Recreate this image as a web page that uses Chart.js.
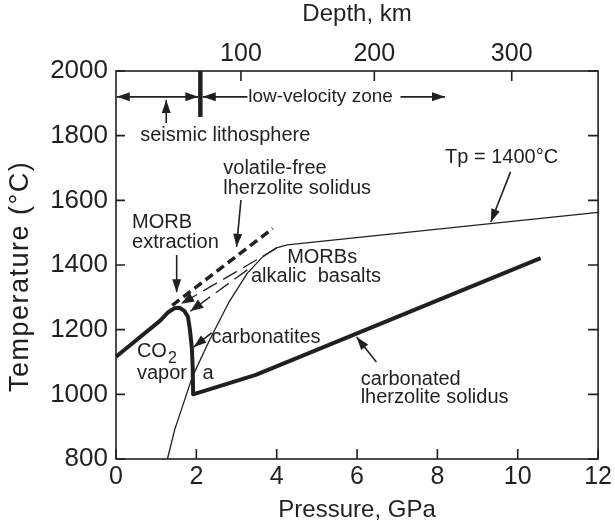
<!DOCTYPE html>
<html>
<head>
<meta charset="utf-8">
<script src="https://cdn.jsdelivr.net/npm/chart.js@4.4.1/dist/chart.umd.min.js"></script>
<style>
  html, body { margin: 0; padding: 0; background: #fff; }
</style>
</head>
<body>
<canvas id="chart" width="615" height="520"></canvas>
<script>
// AXES
const pressureTicks = [0, 2, 4, 6, 8, 10, 12];
const tempTicks = [800, 1000, 1200, 1400, 1600, 1800, 2000];
const depthLabels = [100, 200, 300];
const depthAtGPa = [3.11, 6.43, 9.85];

// CURVES (pressure in GPa, temperature in C)
const carbSolidusP = [0, 1.1, 1.3, 1.45, 1.58, 1.70, 1.79, 1.84, 1.89, 1.91, 1.92, 3.48, 10.57];
const carbSolidusT = [1116, 1228, 1254, 1266, 1268, 1258, 1240, 1200, 1140, 1080, 1000, 1060, 1421];

const drySolidusP = [1.4, 3.9];
const drySolidusT = [1275, 1513];

const adiabatP = [1.28, 1.46, 1.90, 2.33, 2.82, 3.27, 3.65, 3.97, 4.26, 12];
const adiabatT = [800, 890, 1054, 1168, 1287, 1375, 1425, 1452, 1462, 1563];

const meltPathAP = [4.0, 1.62];
const meltPathAT = [1452, 1280];
const meltPathBP = [3.27, 1.85];
const meltPathBT = [1385, 1257];

const ink = '#231f20';
const FONT = '"Liberation Sans", Arial, Helvetica, sans-serif';
Chart.defaults.font.family = FONT;
Chart.defaults.color = ink;

const pts = (P, T) => P.map((p, i) => ({ x: p, y: T[i] }));

// LABELS (data coords)
const labels = [
  { t: 'seismic lithosphere', p: 2.72, T: 1802, align: 'center' },
  { t: 'low-velocity zone', p: 3.29, T: 1920, size: 19 },
  { t: 'volatile-free', p: 2.67, T: 1700 },
  { t: 'lherzolite solidus', p: 2.67, T: 1638 },
  { t: 'MORB', p: 0.40, T: 1530 },
  { t: 'extraction', p: 0.40, T: 1471 },
  { t: 'MORBs', p: 4.26, T: 1422 },
  { t: 'alkalic  basalts', p: 3.36, T: 1363 },
  { t: 'carbonatites', p: 2.38, T: 1177 },
  { t: 'vapor', p: 0.52, T: 1066 },
  { t: 'a', p: 2.15, T: 1066 },
  { t: 'Tp = 1400°C', p: 8.19, T: 1734 },
  { t: 'carbonated', p: 6.09, T: 1047 },
  { t: 'lherzolite solidus', p: 6.09, T: 989 }
];

// ARROWS [p0, T0, p1, T1, both ends]
const arrows = [
  [9.82, 1688, 9.33, 1533],
  [6.48, 1100, 5.99, 1177],
  [1.51, 1431, 1.51, 1316],
  [3.11, 1601, 3.00, 1456],
  [2.38, 1190, 1.93, 1146],
  [1.25, 1839, 1.25, 1910],
  [0.02, 1920, 2.05, 1920, true],
  [3.27, 1920, 2.16, 1920],
  [7.08, 1920, 8.19, 1920]
];

function head(ctx, x0, y0, x1, y1, len, w) {
  const a = Math.atan2(y1 - y0, x1 - x0);
  ctx.beginPath();
  ctx.moveTo(x1, y1);
  ctx.lineTo(x1 - len * Math.cos(a) + w * Math.sin(a), y1 - len * Math.sin(a) - w * Math.cos(a));
  ctx.lineTo(x1 - len * Math.cos(a) - w * Math.sin(a), y1 - len * Math.sin(a) + w * Math.cos(a));
  ctx.closePath();
  ctx.fill();
}

const decor = {
  id: 'decor',
  afterDraw(chart) {
    const { ctx, chartArea: a, scales } = chart;
    const X = scales.x, Y = scales.y, X2 = scales.x2;
    ctx.save();
    ctx.strokeStyle = ink;
    ctx.fillStyle = ink;

    // frame + inward ticks
    ctx.lineWidth = 1.6;
    ctx.strokeRect(a.left, a.top, a.right - a.left, a.bottom - a.top);
    ctx.beginPath();
    pressureTicks.forEach(v => {
      const px = X.getPixelForValue(v);
      ctx.moveTo(px, a.bottom); ctx.lineTo(px, a.bottom - 10);
    });
    tempTicks.forEach(v => {
      const py = Y.getPixelForValue(v);
      ctx.moveTo(a.left, py); ctx.lineTo(a.left + 9, py);
      ctx.moveTo(a.right, py); ctx.lineTo(a.right - 10, py);
    });
    depthAtGPa.forEach(v => {
      const px = X2.getPixelForValue(v);
      ctx.moveTo(px, a.top); ctx.lineTo(px, a.top + 10);
    });
    ctx.stroke();

    // lithosphere base bar
    ctx.lineWidth = 4.5;
    ctx.beginPath();
    ctx.moveTo(X.getPixelForValue(2.1), Y.getPixelForValue(2000));
    ctx.lineTo(X.getPixelForValue(2.1), Y.getPixelForValue(1858));
    ctx.stroke();

    // arrowheads on melt paths
    [3, 4].forEach(i => {
      const d = chart.getDatasetMeta(i).data;
      const p0 = d[d.length - 2], p1 = d[d.length - 1];
      head(ctx, p0.x, p0.y, p1.x, p1.y, 13, 5);
    });

    // annotation arrows
    ctx.lineWidth = 1.6;
    arrows.forEach(r => {
      const x0 = X.getPixelForValue(r[0]), y0 = Y.getPixelForValue(r[1]);
      const x1 = X.getPixelForValue(r[2]), y1 = Y.getPixelForValue(r[3]);
      ctx.beginPath(); ctx.moveTo(x0, y0); ctx.lineTo(x1, y1); ctx.stroke();
      head(ctx, x0, y0, x1, y1, 13, 4.5);
      if (r[4]) head(ctx, x1, y1, x0, y0, 13, 4.5);
    });

    // text
    ctx.textBaseline = 'middle';
    labels.forEach(l => {
      ctx.font = (l.size || 20) + 'px ' + FONT;
      ctx.textAlign = l.align || 'left';
      ctx.fillText(l.t, X.getPixelForValue(l.p), Y.getPixelForValue(l.T));
    });
    ctx.font = '20px ' + FONT;
    ctx.textAlign = 'left';
    const cx = X.getPixelForValue(0.52), cy = Y.getPixelForValue(1131);
    ctx.fillText('CO', cx, cy);
    const w = ctx.measureText('CO').width;
    ctx.font = '16px ' + FONT;
    ctx.fillText('2', cx + w + 1, cy + 7);

    // y axis title (slightly letter-spaced, as in the original)
    ctx.translate(28, Y.getPixelForValue(1365));
    ctx.rotate(-Math.PI / 2);
    ctx.font = '27px ' + FONT;
    ctx.letterSpacing = '1.5px';
    ctx.textAlign = 'center';
    ctx.textBaseline = 'alphabetic';
    ctx.fillText('Temperature (°C)', 0, 0);
    ctx.restore();
  }
};

const line = (P, T, width, dash) => ({
  data: pts(P, T), borderColor: ink, borderWidth: width, borderDash: dash || [],
  showLine: true, pointRadius: 0, borderJoinStyle: 'round', borderCapStyle: 'butt', clip: false
});

new Chart(document.getElementById('chart'), {
  type: 'scatter',
  data: {
    datasets: [
      line(carbSolidusP, carbSolidusT, 4),
      line(drySolidusP, drySolidusT, 3.5, [9, 5]),
      line(adiabatP, adiabatT, 1.3),
      line(meltPathAP, meltPathAT, 1.3, [16, 7]),
      line(meltPathBP, meltPathBT, 1.3, [16, 7])
    ]
  },
  options: {
    responsive: false,
    animation: false,
    events: [],
    layout: { padding: { left: 0, right: 14, top: 0, bottom: 0 } },
    plugins: { legend: { display: false }, tooltip: { enabled: false } },
    scales: {
      x: {
        type: 'linear', position: 'bottom', min: 0, max: 12,
        afterBuildTicks: s => { s.ticks = pressureTicks.map(v => ({ value: v })); },
        afterFit: s => { s.height = 61; },
        grid: { display: false, drawTicks: false },
        border: { display: false },
        ticks: { padding: 3, font: { size: 25 }, color: ink, maxRotation: 0, autoSkip: false },
        title: { display: true, text: 'Pressure, GPa', font: { size: 24, lineHeight: 0.8 }, padding: 0, color: ink }
      },
      x2: {
        type: 'linear', position: 'top', min: 0, max: 12,
        afterBuildTicks: s => { s.ticks = depthAtGPa.map(v => ({ value: v })); },
        afterFit: s => { s.height = 71; },
        grid: { display: false, drawTicks: false },
        border: { display: false },
        ticks: { padding: 2, font: { size: 25 }, color: ink, maxRotation: 0, autoSkip: false,
                 callback: (v, i) => depthLabels[i] },
        title: { display: true, text: 'Depth, km', font: { size: 24, lineHeight: 1.2 }, padding: 0, color: ink }
      },
      y: {
        type: 'linear', position: 'left', min: 800, max: 2000,
        afterBuildTicks: s => { s.ticks = tempTicks.map(v => ({ value: v })); },
        afterFit: s => { s.width = 116; },
        grid: { display: false, drawTicks: false },
        border: { display: false },
        ticks: { padding: 8, font: { size: 26 }, color: ink, callback: v => String(v) }
      }
    }
  },
  plugins: [decor]
});
</script>
</body>
</html>
